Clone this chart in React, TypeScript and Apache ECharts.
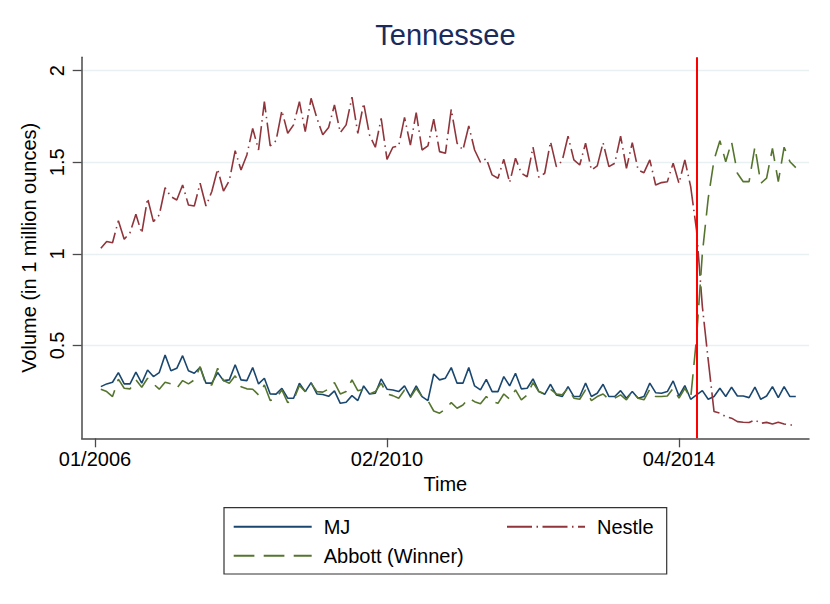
import React, { useEffect, useRef } from 'react';
import * as echarts from 'echarts';

// Values in million ounces, one per period (period 0 = first observation, early 2006)
const mjValues = [
  0.275, 0.290, 0.299, 0.352, 0.290, 0.290, 0.354, 0.294, 0.366, 0.330,
  0.352, 0.448, 0.362, 0.375, 0.444, 0.362, 0.348, 0.381, 0.294, 0.294,
  0.352, 0.308, 0.312, 0.395, 0.312, 0.308, 0.379, 0.290, 0.321, 0.235,
  0.234, 0.266, 0.212, 0.212, 0.294, 0.248, 0.297, 0.235, 0.232, 0.222,
  0.252, 0.184, 0.190, 0.226, 0.199, 0.279, 0.235, 0.239, 0.317, 0.261,
  0.257, 0.248, 0.279, 0.221, 0.279, 0.221, 0.199, 0.344, 0.312, 0.321,
  0.379, 0.294, 0.294, 0.379, 0.279, 0.257, 0.315, 0.248, 0.248, 0.330,
  0.279, 0.348, 0.263, 0.266, 0.317, 0.248, 0.233, 0.288, 0.230, 0.221,
  0.275, 0.221, 0.221, 0.294, 0.221, 0.239, 0.288, 0.221, 0.221, 0.253,
  0.212, 0.248, 0.212, 0.221, 0.294, 0.242, 0.239, 0.248, 0.306, 0.224,
  0.281, 0.206, 0.230, 0.253, 0.206, 0.221, 0.266, 0.221, 0.272, 0.224,
  0.224, 0.215, 0.272, 0.206, 0.224, 0.275, 0.215, 0.275, 0.221, 0.221,
];

const nestleValues = [
  1.031, 1.067, 1.061, 1.181, 1.080, 1.116, 1.216, 1.112, 1.303, 1.176,
  1.212, 1.361, 1.312, 1.294, 1.376, 1.267, 1.261, 1.385, 1.261, 1.340,
  1.463, 1.343, 1.400, 1.563, 1.458, 1.540, 1.685, 1.567, 1.831, 1.589,
  1.618, 1.782, 1.658, 1.704, 1.831, 1.667, 1.849, 1.740, 1.650, 1.690,
  1.813, 1.662, 1.704, 1.855, 1.658, 1.822, 1.649, 1.582, 1.740, 1.516,
  1.582, 1.589, 1.745, 1.594, 1.771, 1.567, 1.589, 1.735, 1.558, 1.549,
  1.789, 1.604, 1.567, 1.698, 1.567, 1.500, 1.520, 1.431, 1.413, 1.516,
  1.389, 1.522, 1.440, 1.421, 1.582, 1.418, 1.440, 1.612, 1.476, 1.508,
  1.642, 1.513, 1.485, 1.604, 1.458, 1.480, 1.607, 1.476, 1.495, 1.643,
  1.467, 1.607, 1.458, 1.443, 1.513, 1.376, 1.389, 1.394, 1.495, 1.385,
  1.513, 1.367, 1.130, 0.712, 0.421, 0.139, 0.130, 0.111, 0.103, 0.084,
  0.081, 0.079, 0.093, 0.075, 0.080, 0.071, 0.081, 0.071, 0.066, 0.066,
];

const abbottValues = [
  0.261, 0.248, 0.221, 0.316, 0.266, 0.263, 0.312, 0.272, 0.321, 0.290,
  0.261, 0.299, 0.290, 0.266, 0.308, 0.290, 0.312, 0.384, 0.284, 0.284,
  0.375, 0.308, 0.294, 0.334, 0.275, 0.263, 0.261, 0.230, 0.284, 0.199,
  0.212, 0.257, 0.188, 0.203, 0.281, 0.248, 0.294, 0.248, 0.245, 0.262,
  0.297, 0.235, 0.248, 0.312, 0.253, 0.261, 0.235, 0.248, 0.294, 0.235,
  0.226, 0.212, 0.257, 0.215, 0.266, 0.221, 0.199, 0.142, 0.130, 0.152,
  0.188, 0.157, 0.175, 0.212, 0.193, 0.181, 0.221, 0.193, 0.184, 0.235,
  0.206, 0.257, 0.203, 0.230, 0.297, 0.248, 0.235, 0.261, 0.235, 0.230,
  0.266, 0.212, 0.206, 0.257, 0.199, 0.221, 0.235, 0.206, 0.212, 0.230,
  0.203, 0.248, 0.212, 0.203, 0.261, 0.221, 0.221, 0.224, 0.266, 0.212,
  0.266, 0.212, 0.540, 1.003, 1.303, 1.513, 1.618, 1.503, 1.612, 1.440,
  1.394, 1.394, 1.585, 1.385, 1.413, 1.576, 1.394, 1.582, 1.503, 1.471,
];

const xTickValues = [-1, 49, 99];
const xTickLabels = ['01/2006', '02/2010', '04/2014'];
const yTickValues = [0.5, 1, 1.5, 2];
const yTickLabels = ['0.5', '1', '1.5', '2'];
const contractSwitchPeriod = 102;

const FONT = "'Liberation Sans', Arial, Helvetica, sans-serif";
const C_MJ = '#1a476f';
const C_NESTLE = '#90353b';
const C_ABBOTT = '#55752f';
const AXIS_COLOR = '#4a4a4a';

function lookup(values: number[], labels: string[], v: number): string {
  for (let i = 0; i < values.length; i++) {
    if (Math.abs(values[i] - v) < 1e-6) return labels[i];
  }
  return '';
}

const toPairs = (arr: number[]) => arr.map((v, i) => [i, v]);

export default function App() {
  const ref = useRef<HTMLDivElement>(null);

  useEffect(() => {
    if (!ref.current) return;
    const chart = echarts.init(ref.current, null, { renderer: 'svg' });

    const legendCommon = {
      orient: 'horizontal',
      padding: 0,
      itemWidth: 78,
      itemHeight: 14,
      itemGap: 0,
      selectedMode: false,
      itemStyle: { opacity: 0 },
      textStyle: {
        fontSize: 20,
        lineHeight: 20,
        color: '#000',
        fontFamily: FONT,
        padding: [0, 0, 0, 7],
      },
    };

    const option: any = {
      animation: false,
      backgroundColor: '#ffffff',
      grid: { left: 81.7, right: 21, top: 57.3, bottom: 165.7, containLabel: false },
      graphic: [
        {
          type: 'text',
          x: 445.5,
          y: 20,
          style: {
            text: 'Tennessee',
            fontSize: 29,
            fontFamily: FONT,
            fill: '#1a2b5c',
            align: 'center',
            verticalAlign: 'top',
          },
        },
        {
          type: 'rect',
          shape: { x: 224, y: 507.7, width: 442.7, height: 66.3 },
          style: { fill: 'none', stroke: '#333', lineWidth: 1.2 },
        },
      ],
      legend: [
        { ...legendCommon, data: ['MJ'], left: 232.7, top: 516.7 },
        { ...legendCommon, data: ['Nestle'], left: 506, top: 516.7 },
        { ...legendCommon, data: ['Abbott (Winner)'], left: 232.7, top: 545.7 },
      ],
      xAxis: {
        type: 'value',
        min: -3.28,
        max: 121.26,
        name: 'Time',
        nameLocation: 'middle',
        nameGap: 34,
        nameTextStyle: { fontSize: 20, color: '#000', fontFamily: FONT },
        axisLine: { show: true, onZero: false, lineStyle: { color: AXIS_COLOR, width: 1.5 } },
        axisTick: {
          show: true,
          length: 9,
          customValues: xTickValues,
          lineStyle: { color: AXIS_COLOR, width: 1.3 },
        },
        axisLabel: {
          customValues: xTickValues,
          formatter: (v: number) => lookup(xTickValues, xTickLabels, v),
          fontSize: 20,
          color: '#000',
          fontFamily: FONT,
          margin: 11,
        },
        splitLine: { show: false },
      },
      yAxis: {
        type: 'value',
        min: -0.007,
        max: 2.073,
        name: 'Volume (in 1 million ounces)',
        nameLocation: 'middle',
        nameRotate: 90,
        nameGap: 30,
        nameTextStyle: { fontSize: 20, color: '#000', fontFamily: FONT },
        axisLine: { show: true, onZero: false, lineStyle: { color: AXIS_COLOR, width: 1.5 } },
        axisTick: {
          show: true,
          length: 9,
          customValues: yTickValues,
          lineStyle: { color: AXIS_COLOR, width: 1.3 },
        },
        axisLabel: {
          customValues: yTickValues,
          formatter: (v: number) => lookup(yTickValues, yTickLabels, v),
          rotate: 90,
          fontSize: 20,
          color: '#000',
          fontFamily: FONT,
          margin: 15,
        },
        splitLine: { show: true, lineStyle: { color: '#e8f0f2', width: 1.4 } },
      },
      series: [
        {
          name: 'MJ',
          type: 'line',
          data: toPairs(mjValues),
          symbol: 'none',
          emphasis: { disabled: true },
          lineStyle: { color: C_MJ, width: 1.6 },
          itemStyle: { color: C_MJ },
        },
        {
          name: 'Nestle',
          type: 'line',
          data: toPairs(nestleValues),
          symbol: 'none',
          emphasis: { disabled: true },
          lineStyle: { color: C_NESTLE, width: 1.6, type: [25, 4.5, 1.5, 4.5] },
          itemStyle: { color: C_NESTLE },
        },
        {
          name: 'Abbott (Winner)',
          type: 'line',
          data: toPairs(abbottValues),
          symbol: 'none',
          emphasis: { disabled: true },
          lineStyle: { color: C_ABBOTT, width: 1.6, type: [20.7, 9.3] },
          itemStyle: { color: C_ABBOTT },
          markLine: {
            silent: true,
            symbol: ['none', 'none'],
            label: { show: false },
            emphasis: { disabled: true },
            lineStyle: { color: '#ff0000', width: 2, type: 'solid' },
            data: [{ xAxis: contractSwitchPeriod }],
          },
        },
      ],
    };

    chart.setOption(option);
    return () => chart.dispose();
  }, []);

  return (
    <div
      ref={ref}
      style={{ position: 'fixed', left: 0, top: 0, width: 830, height: 604, background: '#fff' }}
    />
  );
}
